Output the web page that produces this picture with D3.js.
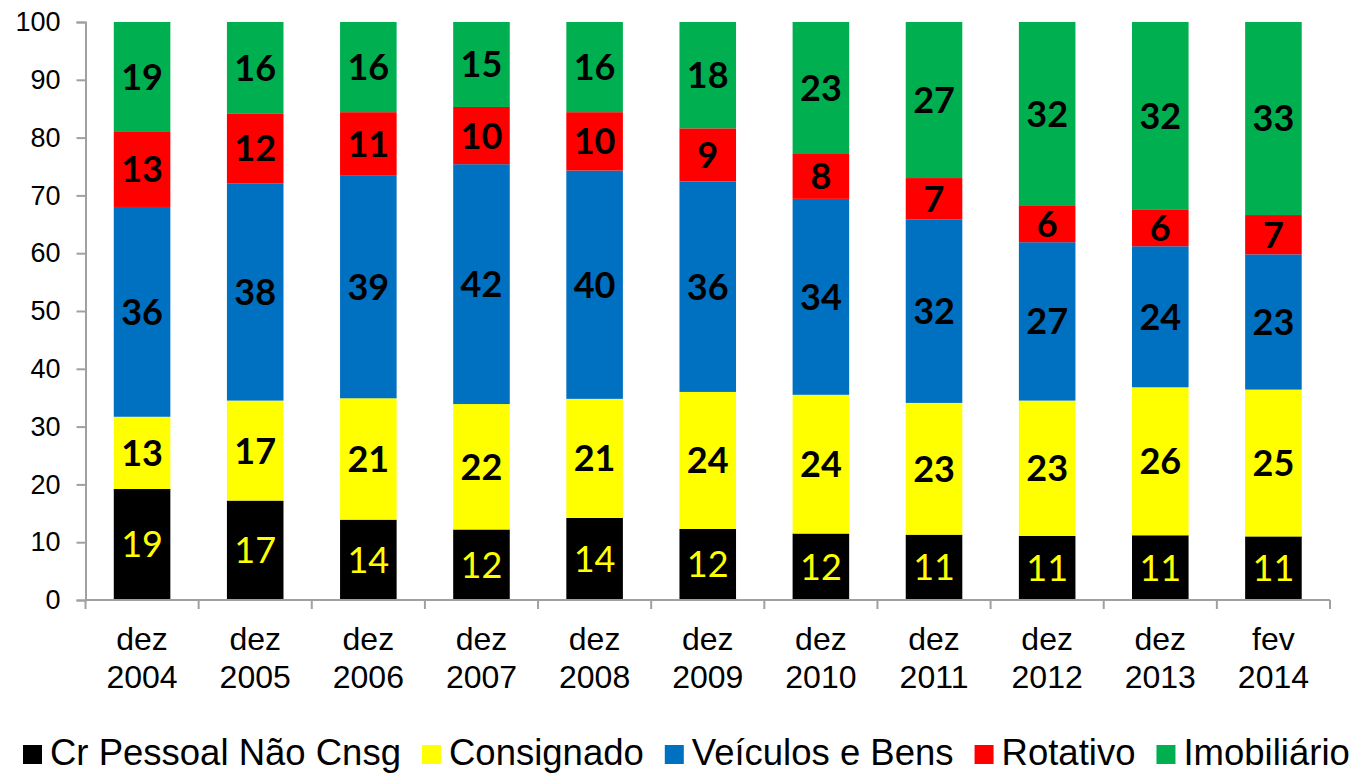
<!DOCTYPE html>
<html>
<head>
<meta charset="utf-8">
<script src="https://cdn.jsdelivr.net/npm/d3@7/dist/d3.min.js"></script>
<style>
  html, body { margin: 0; padding: 0; background: #fff; }
  svg { display: block; }
</style>
</head>
<body>
<svg id="chart" width="1354" height="774"></svg>
<script>
// ---- Data ----
const categoriesTop = ["dez", "dez", "dez", "dez", "dez", "dez", "dez", "dez", "dez", "dez", "fev"];
const categoriesBottom = ["2004", "2005", "2006", "2007", "2008", "2009", "2010", "2011", "2012", "2013", "2014"];
const seriesNames = ["Cr Pessoal Não Cnsg", "Consignado", "Veículos e Bens", "Rotativo", "Imobiliário"];
const crPessoal   = [19.2, 17.2, 13.9, 12.2, 14.2, 12.3, 11.5, 11.3, 11.1, 11.2, 11.0];
const consignado  = [12.5, 17.3, 21.0, 21.7, 20.6, 23.7, 24.0, 22.8, 23.4, 25.6, 25.4];
const veiculos    = [36.3, 37.6, 38.6, 41.5, 39.5, 36.4, 33.9, 31.7, 27.4, 24.4, 23.4];
const rotativo    = [13.1, 12.1, 10.9,  9.9, 10.1,  9.2,  7.9,  7.2,  6.4,  6.4,  6.8];
const imobiliario = [18.9, 15.8, 15.6, 14.7, 15.6, 18.4, 22.7, 27.0, 31.7, 32.4, 33.4];
const yTicks = [0, 10, 20, 30, 40, 50, 60, 70, 80, 90, 100];

const seriesValues = [crPessoal, consignado, veiculos, rotativo, imobiliario];
const colors = ["#000000", "#FFFF00", "#0070C0", "#FF0000", "#00B050"];
const labelColors = ["#FFFF00", "#000000", "#000000", "#000000", "#000000"];
const labelWeights = ["normal", "bold", "bold", "bold", "bold"];

// table for stack
const keys = seriesNames;
const table = categoriesBottom.map((c, i) => {
  const row = { idx: i };
  keys.forEach((k, s) => row[k] = seriesValues[s][i]);
  return row;
});

const svg = d3.select("#chart");
const axisColor = "#a0a0a0";

const x = d3.scaleBand().domain(d3.range(categoriesBottom.length)).range([85.5, 1330]).paddingInner(0.5).paddingOuter(0.25);
const y = d3.scaleLinear().domain([0, 100]).range([600, 22]);

const stacked = d3.stack().keys(keys)(table);

// bars
const g = svg.append("g");
stacked.forEach((layer, s) => {
  g.append("g").selectAll("rect").data(layer).join("rect")
    .attr("x", d => x(d.data.idx))
    .attr("width", x.bandwidth())
    .attr("y", d => y(d[1]))
    .attr("height", d => y(d[0]) - y(d[1]))
    .attr("fill", colors[s]);
});

// labels
const labelFont = "Lato, 'Open Sans', sans-serif";
stacked.forEach((layer, s) => {
  g.append("g").selectAll("text").data(layer).join("text")
    .attr("x", d => x(d.data.idx) + x.bandwidth() / 2)
    .attr("y", d => y((d[0] + d[1]) / 2))
    .attr("dy", "0.36em")
    .attr("text-anchor", "middle")
    .attr("font-family", labelFont)
    .attr("font-size", 36)
    .attr("font-weight", labelWeights[s])
    .attr("fill", labelColors[s])
    .text(d => Math.round(d[1] - d[0]));
});

// y axis
const yAxis = svg.append("g")
  .attr("transform", "translate(85.5,0)")
  .call(d3.axisLeft(y).tickValues(yTicks).tickSize(9).tickPadding(16));
yAxis.select(".domain").attr("stroke", axisColor).attr("stroke-width", 2);
yAxis.selectAll(".tick line").attr("stroke", axisColor).attr("stroke-width", 2);
yAxis.selectAll(".tick text")
  .attr("font-family", "'Liberation Sans', Arial, sans-serif")
  .attr("font-size", 27)
  .attr("fill", "#000");

// x axis
const xAxis = svg.append("g")
  .attr("transform", "translate(0,600)")
  .call(d3.axisBottom(x).tickSize(0).tickFormat(""));
xAxis.select(".domain").attr("stroke", axisColor).attr("stroke-width", 2).attr("d", `M85.5,0H1330`);
// boundary ticks
const step = x.step();
const x0 = x.range()[0];
xAxis.append("g").selectAll("line").data(d3.range(categoriesBottom.length + 1)).join("line")
  .attr("x1", i => x0 + i * step).attr("x2", i => x0 + i * step)
  .attr("y1", 0).attr("y2", 9)
  .attr("stroke", axisColor).attr("stroke-width", 2);

const xl = svg.append("g").attr("font-family", "'Liberation Sans', Arial, sans-serif").attr("font-size", 32).attr("fill", "#000");
xl.selectAll("text.top").data(categoriesTop).join("text").attr("class", "top")
  .attr("x", (d, i) => x(i) + x.bandwidth() / 2).attr("y", 650)
  .attr("text-anchor", "middle").text(d => d);
xl.selectAll("text.bot").data(categoriesBottom).join("text").attr("class", "bot")
  .attr("x", (d, i) => x(i) + x.bandwidth() / 2).attr("y", 688)
  .attr("text-anchor", "middle").text(d => d);

// legend
const leg = svg.append("g");
let lx = 23;
seriesNames.forEach((name, s) => {
  leg.append("rect").attr("x", lx).attr("y", 745).attr("width", 19).attr("height", 19).attr("fill", colors[s]);
  const t = leg.append("text").attr("x", lx + 27).attr("y", 765)
    .attr("font-family", "'Liberation Sans', Arial, sans-serif").attr("font-size", 36.5).attr("fill", "#000")
    .text(name);
  lx = lx + 27 + t.node().getComputedTextLength() + 21;
});
</script>
</body>
</html>
